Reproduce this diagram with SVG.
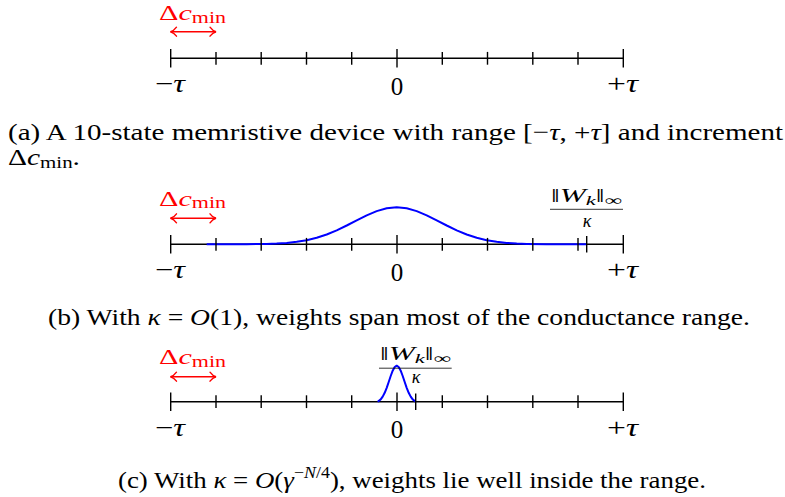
<svg xmlns="http://www.w3.org/2000/svg" width="785" height="497" viewBox="0 0 785 497">
<style>
text{font-family:"Liberation Serif","Times New Roman",serif;font-size:24px;fill:#000}
.i{font-style:italic}
.red{fill:#f00;font-size:22px}
.ax{stroke:#000;stroke-width:1.4;fill:none}
.tk{stroke:#000;stroke-width:1.4}
.cv{stroke:#00f;stroke-width:2;fill:none;stroke-linejoin:round}
.arr{stroke:#f00;stroke-width:1.4;fill:none}
.mid{text-anchor:middle}
.lb{font-size:25px}
.sm{font-size:18px}
</style>
<defs>
<marker id="ah" viewBox="-8 -6 10 12" refX="0" refY="0" markerWidth="10" markerHeight="12" markerUnits="userSpaceOnUse" orient="auto-start-reverse">
<path d="M-6,-4.5 C-4,-1.7 -1.2,-0.3 0,0 C-1.2,0.3 -4,1.7 -6,4.5" fill="none" stroke="#f00" stroke-width="1.4" stroke-linecap="round"/>
</marker>
<g id="ticks">
<line class="tk" x1="170.7" y1="-9.3" x2="170.7" y2="9.3"/>
<line class="tk" x1="216" y1="-6.4" x2="216" y2="6.4"/>
<line class="tk" x1="261.2" y1="-6.4" x2="261.2" y2="6.4"/>
<line class="tk" x1="306.5" y1="-6.4" x2="306.5" y2="6.4"/>
<line class="tk" x1="351.7" y1="-6.4" x2="351.7" y2="6.4"/>
<line class="tk" x1="397" y1="-9.3" x2="397" y2="9.3"/>
<line class="tk" x1="442.3" y1="-6.4" x2="442.3" y2="6.4"/>
<line class="tk" x1="487.5" y1="-6.4" x2="487.5" y2="6.4"/>
<line class="tk" x1="532.8" y1="-6.4" x2="532.8" y2="6.4"/>
<line class="tk" x1="578" y1="-6.4" x2="578" y2="6.4"/>
<line class="tk" x1="623.3" y1="-9.3" x2="623.3" y2="9.3"/>
</g>
</defs>

<g id="panel-a">
<line class="ax" x1="170.7" y1="58.3" x2="623.3" y2="58.3"/>
<use href="#ticks" y="58.3"/>
<text class="lb" x="155" y="92" textLength="30" lengthAdjust="spacingAndGlyphs">−<tspan class="i">τ</tspan></text>
<text class="lb mid" x="397" y="94.5">0</text>
<text class="lb" x="607" y="92" textLength="31" lengthAdjust="spacingAndGlyphs">+<tspan class="i">τ</tspan></text>
<text class="red" x="159" y="20" textLength="67" lengthAdjust="spacingAndGlyphs">Δ<tspan class="i">c</tspan><tspan font-size="16" dy="2.5">min</tspan></text>
<line class="arr" x1="170.5" y1="31.7" x2="216" y2="31.7" marker-start="url(#ah)" marker-end="url(#ah)"/>
<text x="8" y="140" textLength="775" lengthAdjust="spacingAndGlyphs">(a) A 10-state memristive device with range [−<tspan class="i">τ</tspan>, +<tspan class="i">τ</tspan>] and increment</text>
<text x="8" y="165" textLength="72" lengthAdjust="spacingAndGlyphs">Δ<tspan class="i">c</tspan><tspan font-size="17" dy="3">min</tspan><tspan dy="-3">.</tspan></text>
</g>

<g id="panel-b">
<line class="ax" x1="170.7" y1="244.3" x2="623.3" y2="244.3"/>
<polyline class="cv" points="206.7,244.3 246.7,244.2 266.7,243.9 276.7,243.55 286.7,242.9 296.7,241.8 306.7,240.2 316.7,237.7 326.7,234.5 336.7,230.3 346.7,225.5 356.7,220.3 366.7,215.3 376.7,211.1 386.7,208.3 396.7,207.3 406.7,208.3 416.7,211.1 426.7,215.3 436.7,220.3 446.7,225.5 456.7,230.3 466.7,234.5 476.7,237.7 486.7,240.2 496.7,241.8 506.7,242.9 516.7,243.55 526.7,243.9 546.7,244.2 586.7,244.3"/>
<use href="#ticks" y="244.3"/>
<line class="tk" x1="586.7" y1="236" x2="586.7" y2="252.6"/>
<text class="lb" x="155" y="278" textLength="30" lengthAdjust="spacingAndGlyphs">−<tspan class="i">τ</tspan></text>
<text class="lb mid" x="397" y="280.5">0</text>
<text class="lb" x="607" y="278" textLength="31" lengthAdjust="spacingAndGlyphs">+<tspan class="i">τ</tspan></text>
<text class="red" x="159" y="205.5" textLength="67" lengthAdjust="spacingAndGlyphs">Δ<tspan class="i">c</tspan><tspan font-size="16" dy="2.5">min</tspan></text>
<line class="arr" x1="170.5" y1="218.3" x2="216" y2="218.3" marker-start="url(#ah)" marker-end="url(#ah)"/>
<text class="sm" x="551" y="202" textLength="71" lengthAdjust="spacingAndGlyphs">‖<tspan class="i">W</tspan><tspan font-size="13" dy="3" class="i">k</tspan><tspan dy="-3">‖</tspan><tspan font-size="14" dy="3">∞</tspan></text>
<line x1="550" y1="209.3" x2="623" y2="209.3" stroke="#000" stroke-width="0.8"/>
<text class="sm i mid" x="587" y="226.5">κ</text>
<text x="48" y="325" textLength="702" lengthAdjust="spacingAndGlyphs">(b) With <tspan class="i">κ</tspan> = <tspan class="i">O</tspan>(1), weights span most of the conductance range.</text>
</g>

<g id="panel-c">
<line class="ax" x1="170.7" y1="401.7" x2="623.3" y2="401.7"/>
<polyline class="cv" points="377.7,401.7 380.7,399.4 382.7,396.6 384.7,392.8 386.7,387.8 388.7,382 390.7,376 392.7,370.7 394.7,367 396.7,365.7 398.7,367 400.7,370.7 402.7,376 404.7,382 406.7,387.8 408.7,392.8 410.7,396.6 412.7,399.4 415.7,401.7"/>
<use href="#ticks" y="401.7"/>
<line class="tk" x1="415.7" y1="393.4" x2="415.7" y2="410"/>
<text class="lb" x="155" y="435.5" textLength="30" lengthAdjust="spacingAndGlyphs">−<tspan class="i">τ</tspan></text>
<text class="lb mid" x="397" y="438">0</text>
<text class="lb" x="607" y="435.5" textLength="31" lengthAdjust="spacingAndGlyphs">+<tspan class="i">τ</tspan></text>
<text class="red" x="159" y="364" textLength="67" lengthAdjust="spacingAndGlyphs">Δ<tspan class="i">c</tspan><tspan font-size="16" dy="2.5">min</tspan></text>
<line class="arr" x1="170.5" y1="376.7" x2="216" y2="376.7" marker-start="url(#ah)" marker-end="url(#ah)"/>
<text class="sm" x="380" y="360" textLength="71" lengthAdjust="spacingAndGlyphs">‖<tspan class="i">W</tspan><tspan font-size="13" dy="3" class="i">k</tspan><tspan dy="-3">‖</tspan><tspan font-size="14" dy="3">∞</tspan></text>
<line x1="379" y1="368.2" x2="451.7" y2="368.2" stroke="#000" stroke-width="0.8"/>
<text class="sm i mid" x="416" y="383.3">κ</text>
<text x="118" y="488" textLength="588" lengthAdjust="spacingAndGlyphs">(c) With <tspan class="i">κ</tspan> = <tspan class="i">O</tspan>(<tspan class="i">γ</tspan><tspan font-size="16" dy="-10">−<tspan class="i">N</tspan>/4</tspan><tspan dy="10">), weights lie well inside the range.</tspan></text>
</g>
</svg>
